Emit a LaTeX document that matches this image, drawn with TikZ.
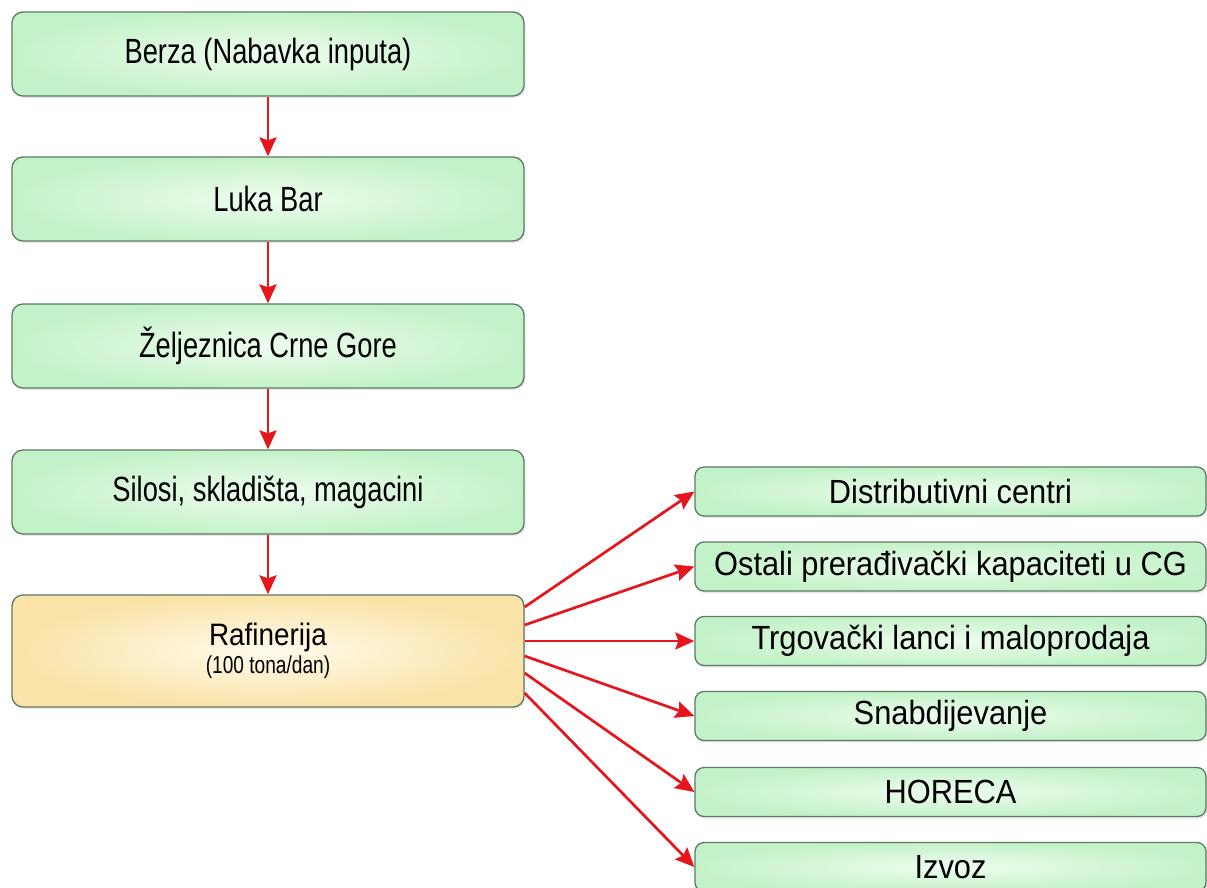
\documentclass[tikz,border=0pt]{standalone}
\usepackage{fontspec}
\setmainfont{Liberation Sans}
\newfontfamily\leftfont{Liberation Sans}[FakeStretch=0.78]
\newfontfamily\raffont{Liberation Sans}[FakeStretch=0.9]
\newfontfamily\subfont{Liberation Sans}[FakeStretch=0.78]
\newfontfamily\rightfont{Liberation Sans}[FakeStretch=0.92]
\usetikzlibrary{arrows.meta,shadows}
\definecolor{boxline}{HTML}{5E7A64}
\definecolor{grnout}{HTML}{C4F2C8}
\definecolor{grnin}{HTML}{EEFDEE}
\definecolor{ylwout}{HTML}{FAE3A8}
\definecolor{ylwin}{HTML}{FFFBEC}
\definecolor{arrred}{HTML}{E5161C}
\tikzset{
  gbox/.style={draw=boxline, line width=1.3pt, rounded corners=11pt,
    shading=radial, inner color=grnin, outer color=grnout,
    drop shadow={opacity=0.18, shadow xshift=1.5pt, shadow yshift=-2pt},
    align=center, inner sep=0pt},
  leftbox/.style={gbox, minimum width=512pt, minimum height=84pt,
    font=\leftfont\fontsize{35}{40}\selectfont},
  rightbox/.style={gbox, minimum width=511pt, minimum height=49pt,
    rounded corners=9pt, font=\rightfont\fontsize{33.5}{38}\selectfont},
  rafbox/.style={gbox, minimum width=512pt, minimum height=112pt,
    inner color=ylwin, outer color=ylwout},
  flow/.style={draw=arrred, line width=2.7pt,
    -{Stealth[length=19pt,width=17pt,inset=3pt]}}
}
\begin{document}
\begin{tikzpicture}[x=1pt,y=-1pt]
\useasboundingbox (0,0) rectangle (1207,888);
\node[leftbox] (berza) at (268,54) {Berza (Nabavka inputa)};
\node[leftbox] (luka) at (268,199) {Luka Bar};
\node[leftbox] (zelj) at (268,346) {Željeznica Crne Gore};
\node[leftbox] (silo) at (268,492) {Silosi, skladišta, magacini};
\node[rafbox] (raf) at (268,651) {\raffont\fontsize{31}{32}\selectfont Rafinerija\\[3pt]\subfont\fontsize{24.5}{26}\selectfont (100 tona/dan)};

\node[rightbox] (dist) at (950.5,491.5) {Distributivni centri};
\node[rightbox] (ost) at (950.5,566.5) {Ostali prerađivački kapaciteti u CG};
\node[rightbox] (trg) at (950.5,641) {Trgovački lanci i maloprodaja};
\node[rightbox] (snab) at (950.5,716) {Snabdijevanje};
\node[rightbox] (hor) at (950.5,792) {HORECA};
\node[rightbox] (izv) at (950.5,867) {Izvoz};

\draw[flow] (berza) -- (luka);
\draw[flow] (luka) -- (zelj);
\draw[flow] (zelj) -- (silo);
\draw[flow] (silo) -- (raf);

\draw[flow] ([yshift=44pt]raf.east) -- (dist.west);
\draw[flow] ([yshift=26pt]raf.east) -- (ost.west);
\draw[flow] ([yshift=10pt]raf.east) -- (trg.west);
\draw[flow] ([yshift=-5pt]raf.east) -- (snab.west);
\draw[flow] ([yshift=-22pt]raf.east) -- (hor.west);
\draw[flow] ([yshift=-42pt]raf.east) -- (izv.west);
\end{tikzpicture}
\end{document}
